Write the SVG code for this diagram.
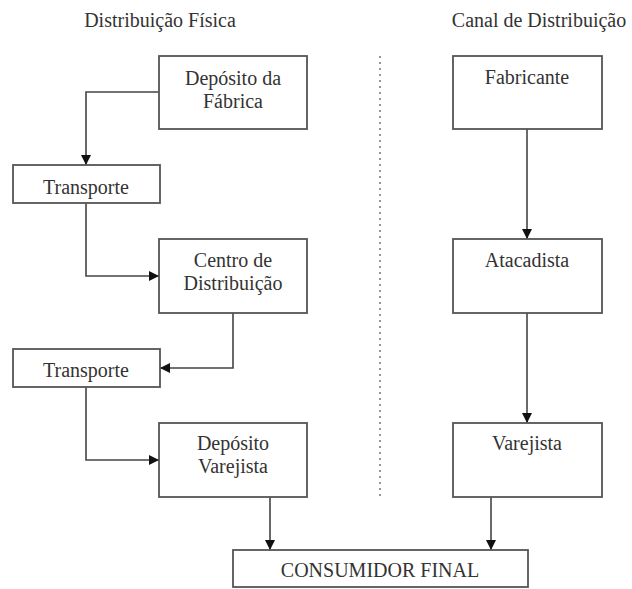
<svg xmlns="http://www.w3.org/2000/svg" width="632" height="589" viewBox="0 0 632 589">
<style>
.box{fill:#fff;stroke:#555;stroke-width:1.8}
.t{font-family:'Liberation Serif','DejaVu Serif',serif;font-size:20px;fill:#333;text-anchor:middle}
.c{fill:none;stroke:#444;stroke-width:1.6}
.div{stroke:#777;stroke-width:1.5;stroke-dasharray:2,4;fill:none}
</style>
<defs>
<marker id="ah" viewBox="0 0 10 10" refX="10" refY="5" markerWidth="10" markerHeight="10" markerUnits="userSpaceOnUse" orient="auto">
<path d="M0,0 L10,5 L0,10 Z" fill="#111"/>
</marker>
</defs>
<rect width="632" height="589" fill="#fff"/>
<g id="titles" font-family="Liberation Serif, serif">
<text class="t" x="160" y="27">Distribuição Física</text>
<text class="t" x="539" y="27">Canal de Distribuição</text>
</g>
<line id="divider" class="div" x1="380" y1="56" x2="380" y2="497"/>
<g id="connectors">
<path class="c" d="M159,92 H86 V165" marker-end="url(#ah)"/>
<path class="c" d="M86,203 V276 H159" marker-end="url(#ah)"/>
<path class="c" d="M233,313 V368 H160" marker-end="url(#ah)"/>
<path class="c" d="M86,387 V460 H159" marker-end="url(#ah)"/>
<path class="c" d="M270,497 V550" marker-end="url(#ah)"/>
<path class="c" d="M527,129 V239" marker-end="url(#ah)"/>
<path class="c" d="M527,313 V423" marker-end="url(#ah)"/>
<path class="c" d="M491,497 V550" marker-end="url(#ah)"/>
</g>
<g id="deposito-fabrica">
<rect class="box" x="159" y="56" width="148" height="73"/>
<text class="t" x="233" y="85">Depósito da</text>
<text class="t" x="233" y="108">Fábrica</text>
</g>
<g id="transporte1">
<rect class="box" x="13" y="165" width="147" height="38"/>
<text class="t" x="86" y="194">Transporte</text>
</g>
<g id="centro-distribuicao">
<rect class="box" x="159" y="239" width="148" height="74"/>
<text class="t" x="233" y="267">Centro de</text>
<text class="t" x="233" y="290">Distribuição</text>
</g>
<g id="transporte2">
<rect class="box" x="13" y="349" width="147" height="38"/>
<text class="t" x="86" y="377">Transporte</text>
</g>
<g id="deposito-varejista">
<rect class="box" x="159" y="423" width="148" height="74"/>
<text class="t" x="233" y="450">Depósito</text>
<text class="t" x="233" y="473">Varejista</text>
</g>
<g id="fabricante">
<rect class="box" x="453" y="56" width="149" height="73"/>
<text class="t" x="527" y="84">Fabricante</text>
</g>
<g id="atacadista">
<rect class="box" x="453" y="239" width="149" height="74"/>
<text class="t" x="527" y="267">Atacadista</text>
</g>
<g id="varejista">
<rect class="box" x="453" y="423" width="149" height="74"/>
<text class="t" x="527" y="450">Varejista</text>
</g>
<g id="consumidor-final">
<rect class="box" x="233" y="550" width="295" height="37"/>
<text class="t" x="380" y="577">CONSUMIDOR FINAL</text>
</g>
</svg>
